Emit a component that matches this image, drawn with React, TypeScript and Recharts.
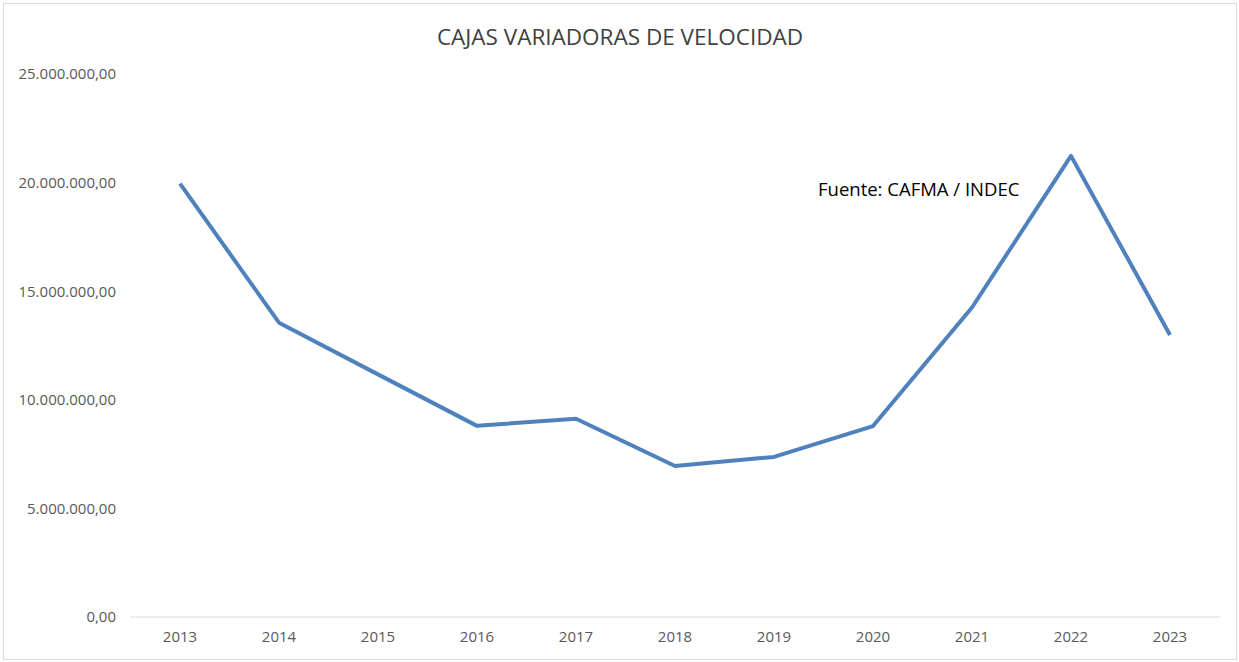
import React from 'react';
import { LineChart, Line, XAxis, YAxis } from 'recharts';

const years = ['2013', '2014', '2015', '2016', '2017', '2018', '2019', '2020', '2021', '2022', '2023'];
const values = [19950000, 13550000, 11170000, 8800000, 9130000, 6950000, 7370000, 8790000, 14250000, 21230000, 12980000];
const yTicks = [0, 5000000, 10000000, 15000000, 20000000, 25000000];
const title = 'CAJAS VARIADORAS DE VELOCIDAD';
const note = 'Fuente: CAFMA / INDEC';

const data = years.map((y, i) => ({ year: y, value: values[i] }));

const fmt = (v: number) => {
  const s = Math.round(v).toString().replace(/\B(?=(\d{3})+(?!\d))/g, '.');
  return s + ',00';
};

const font = "'Open Sans', sans-serif";

export default function App() {
  return (
    <div style={{ position: 'absolute', left: 0, top: 0, width: 1239, height: 662, background: '#fff' }}>
      <div style={{ position: 'absolute', left: 3, top: 3, width: 1232, height: 655, border: '1px solid #d9d9d9' }} />
      <LineChart
        width={1239}
        height={662}
        data={data}
        margin={{ top: 74, right: 19, bottom: 0, left: 0 }}
        style={{ fontFamily: font }}
      >
        <text x={620} y={45} textAnchor="middle" fontSize={22.5} fill="#404040" fontFamily={font}>{title}</text>
        <text x={818} y={196} fontSize={18.5} fill="#000" fontFamily={font}>{note}</text>
        <XAxis
          dataKey="year"
          axisLine={{ stroke: '#d9d9d9', strokeWidth: 1 }}
          tickLine={false}
          tick={{ fill: '#595959', fontSize: 15, fontFamily: font }}
          height={45}
          tickMargin={8}
          interval={0}
          padding={{ left: 50, right: 50 }}
        />
        <YAxis
          domain={[0, 25000000]}
          ticks={yTicks}
          tickFormatter={fmt}
          axisLine={false}
          tickLine={false}
          width={130}
          tickMargin={8}
          tick={{ fill: '#595959', fontSize: 15, fontFamily: font }}
        />
        <Line
          type="linear"
          dataKey="value"
          stroke="#4F81BD"
          strokeWidth={4}
          dot={false}
          activeDot={false}
          isAnimationActive={false}
          strokeLinejoin="round"
        />
      </LineChart>
    </div>
  );
}
